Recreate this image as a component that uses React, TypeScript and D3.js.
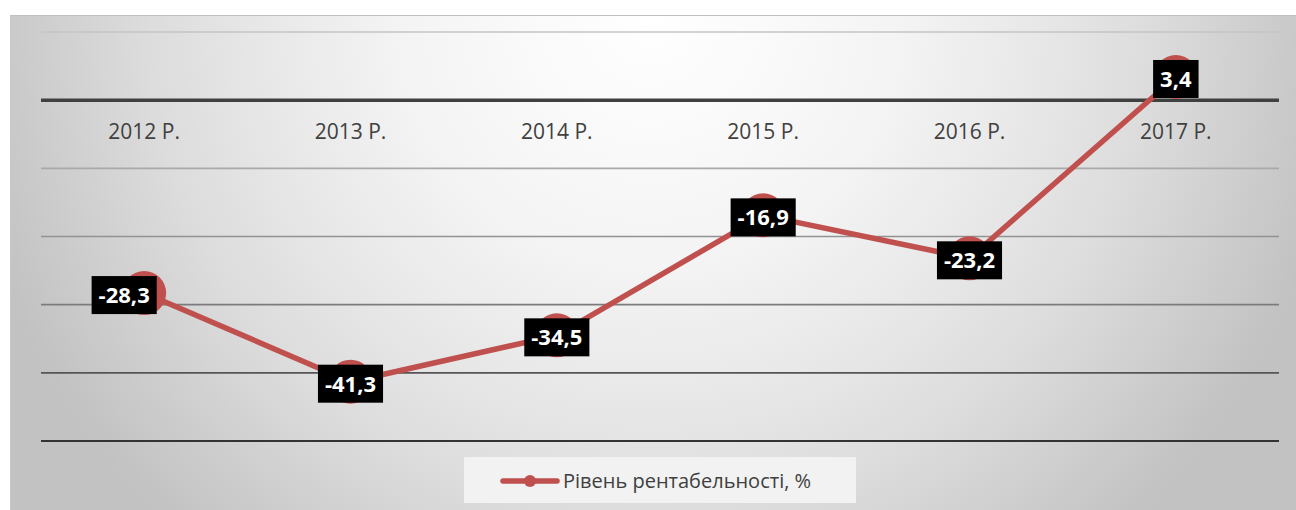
import * as d3 from "d3";
import { useEffect, useRef } from "react";

const years = ["2012 Р.", "2013 Р.", "2014 Р.", "2015 Р.", "2016 Р.", "2017 Р."];
const profitability = [-28.3, -41.3, -34.5, -16.9, -23.2, 3.4];
const yTicks = [-50, -40, -30, -20, -10, 0, 10];
const seriesName = "Рівень рентабельності, %";

// manual nudge of data labels (first label sits left of its marker)
const labelNudge = [-20, 0, 0, 0, 0, 0];

const W = 1296;
const H = 510;
const RED = "#c0504d";
const FONT = "'Open Sans', 'DejaVu Sans', sans-serif";

const gridColors: Record<number, string> = {
  10: "#c4c4c4",
  "-10": "#a9a9a9",
  "-20": "#929292",
  "-30": "#7c7c7c",
  "-40": "#555555",
  "-50": "#333333",
} as any;

export default function App() {
  const ref = useRef<SVGSVGElement>(null);

  useEffect(() => {
    const svg = d3.select(ref.current);
    svg.selectAll("*").remove();

    const defs = svg.append("defs");
    const grad = defs
      .append("radialGradient")
      .attr("id", "bg")
      .attr("gradientUnits", "userSpaceOnUse")
      .attr("cx", 650)
      .attr("cy", 15)
      .attr("r", 700);
    [
      [0, "#ffffff"],
      [0.35, "#f4f4f4"],
      [0.55, "#e8e8e8"],
      [0.72, "#dcdcdc"],
      [0.88, "#cdcdcd"],
      [1, "#c2c2c2"],
    ].forEach(([o, c]) => grad.append("stop").attr("offset", o as number).attr("stop-color", c as string));

    // chart area
    svg.append("rect").attr("x", 10).attr("y", 15).attr("width", W - 10).attr("height", H - 15).attr("fill", "url(#bg)");
    svg.append("line").attr("x1", 10).attr("x2", W).attr("y1", 15.5).attr("y2", 15.5).attr("stroke", "#c0c0c0").attr("stroke-width", 1);
    svg.append("line").attr("x1", 10.5).attr("x2", 10.5).attr("y1", 15).attr("y2", H).attr("stroke", "#c8c8c8").attr("stroke-width", 1);

    const x = d3.scaleBand().domain(years).range([41, 1279]);
    const y = d3.scaleLinear().domain([-50, 10]).range([441, 32]);
    const cx = (d: string) => (x(d) as number) + x.bandwidth() / 2;

    // gridlines
    svg
      .selectAll(".grid")
      .data(yTicks.filter((t) => t !== 0))
      .enter()
      .append("line")
      .attr("class", "grid")
      .attr("x1", 41)
      .attr("x2", 1279)
      .attr("y1", (d) => y(d))
      .attr("y2", (d) => y(d))
      .attr("stroke", (d) => gridColors[d])
      .attr("stroke-width", (d) => (d === -50 ? 2 : 1.6));

    // zero axis
    svg
      .append("line")
      .attr("x1", 41)
      .attr("x2", 1279)
      .attr("y1", y(0))
      .attr("y2", y(0))
      .attr("stroke", "#404040")
      .attr("stroke-width", 3.5);

    // category labels
    svg
      .selectAll(".cat")
      .data(years)
      .enter()
      .append("text")
      .attr("class", "cat")
      .attr("x", (d) => cx(d))
      .attr("y", y(0) + 39)
      .attr("text-anchor", "middle")
      .style("font", `21px ${FONT}`)
      .style("fill", "#404040")
      .text((d) => d);

    const pts = years.map((d, i) => ({ x: cx(d), y: y(profitability[i]), v: profitability[i], i }));

    // line
    const line = d3
      .line<{ x: number; y: number }>()
      .x((d) => d.x)
      .y((d) => d.y);
    svg
      .append("path")
      .datum(pts)
      .attr("d", line)
      .attr("fill", "none")
      .attr("stroke", RED)
      .attr("stroke-width", 5.5)
      .attr("stroke-linejoin", "round")
      .attr("stroke-linecap", "round");

    // markers
    svg
      .selectAll(".pt")
      .data(pts)
      .enter()
      .append("circle")
      .attr("class", "pt")
      .attr("cx", (d) => d.x)
      .attr("cy", (d) => d.y)
      .attr("r", 22)
      .attr("fill", RED);

    // data labels
    const fmt = (v: number) => d3.format(".1f")(v).replace(".", ",").replace("−", "-");
    const lbl = svg
      .selectAll(".lbl")
      .data(pts)
      .enter()
      .append("g")
      .attr("class", "lbl")
      .attr("transform", (d) => `translate(${d.x + labelNudge[d.i]},${d.y + 2})`);
    lbl.each(function (d) {
      const g = d3.select(this);
      const rect = g.append("rect").attr("fill", "#000");
      const t = g
        .append("text")
        .attr("text-anchor", "middle")
        .attr("y", 8)
        .style("font", `bold 22px ${FONT}`)
        .style("fill", "#fff")
        .text(fmt(d.v));
      const w = (t.node() as SVGTextElement).getComputedTextLength() + 14;
      rect.attr("x", -w / 2).attr("y", -19).attr("width", w).attr("height", 38);
    });

    // legend
    const lg = svg.append("g");
    lg.append("rect").attr("x", 464).attr("y", 457).attr("width", 392).attr("height", 46).attr("fill", "#f2f2f2");
    lg.append("line")
      .attr("x1", 503)
      .attr("x2", 557)
      .attr("y1", 481)
      .attr("y2", 481)
      .attr("stroke", RED)
      .attr("stroke-width", 5.5)
      .attr("stroke-linecap", "round");
    lg.append("circle").attr("cx", 530).attr("cy", 481).attr("r", 6).attr("fill", RED);
    lg.append("text")
      .attr("x", 563)
      .attr("y", 488)
      .style("font", `20px ${FONT}`)
      .style("fill", "#404040")
      .text(seriesName);
  }, []);

  return <svg ref={ref} width={W} height={H} style={{ position: "absolute", left: 0, top: 0 }} />;
}
